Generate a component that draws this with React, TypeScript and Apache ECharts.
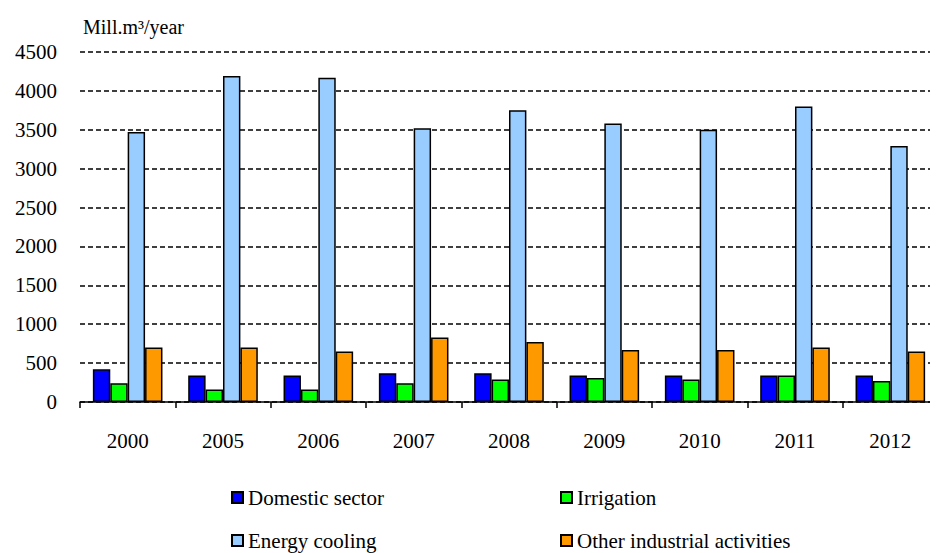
import React, { useEffect, useRef } from "react";
import * as echarts from "echarts";

const categories = ["2000", "2005", "2006", "2007", "2008", "2009", "2010", "2011", "2012"];
const domestic = [420, 340, 340, 370, 370, 340, 340, 340, 340];
const irrigation = [240, 160, 160, 240, 290, 310, 290, 340, 270];
const energyCooling = [3470, 4190, 4170, 3520, 3750, 3580, 3500, 3800, 3290];
const otherIndustrial = [700, 700, 650, 830, 770, 670, 670, 700, 650];
const seriesNames = ["Domestic sector", "Irrigation", "Energy cooling", "Other industrial activities"];
const yTitle = "Mill.m³/year";

const FONT = "Liberation Serif";
const colors = ["#0000FF", "#00FF00", "#99CCFF", "#FF9900"];

export default function App() {
  const ref = useRef<HTMLDivElement>(null);
  useEffect(() => {
    if (!ref.current) return;
    const chart = echarts.init(ref.current, null, { renderer: "svg" });
    const data = [domestic, irrigation, energyCooling, otherIndustrial];
    const legendPos = [
      { left: 231, top: 487 },
      { left: 560, top: 487 },
      { left: 231, top: 530 },
      { left: 560, top: 530 },
    ];
    const richF = { f: { fontFamily: FONT, fontSize: 21, color: "#000" } };
    chart.setOption({
      animation: false,
      graphic: [
        {
          type: "text",
          x: 83,
          y: 17,
          style: { text: yTitle, fontFamily: FONT, fontSize: 20, fill: "#000" },
        },
      ],
      legend: seriesNames.map((n, i) => ({
        data: [{ name: n, icon: "rect" }],
        left: legendPos[i].left,
        top: legendPos[i].top,
        itemWidth: 11,
        itemHeight: 11,
        itemGap: 5,
        padding: 0,
        formatter: (name: string) => `{f|${name}}`,
        textStyle: { fontFamily: FONT, fontSize: 21, color: "#000", rich: richF },
      })),
      grid: { left: 80, top: 52, width: 864, height: 350, containLabel: false },
      xAxis: {
        type: "category",
        data: categories,
        axisLine: { show: true, lineStyle: { color: "#000", width: 1.5 } },
        axisTick: { show: true, length: 6, lineStyle: { color: "#000", width: 1.5 } },
        axisLabel: { color: "#000", fontSize: 21, fontFamily: FONT, margin: 28 },
      },
      yAxis: {
        type: "value",
        min: 0,
        max: 4500,
        interval: 500,
        axisLine: { show: false },
        axisTick: { show: false },
        axisLabel: {
          color: "#000",
          fontSize: 21,
          fontFamily: FONT,
          margin: 23,
          formatter: (v: number) => `{f|${v}}`,
          rich: richF,
        },
        splitLine: { show: true, lineStyle: { color: "#000", width: 1.5, type: [5, 3] } },
      },
      series: seriesNames.map((n, i) => ({
        name: n,
        type: "bar",
        data: data[i],
        barGap: "0%",
        barCategoryGap: "27%",
        itemStyle: { color: colors[i], borderColor: "#000", borderWidth: 1.5 },
      })),
    });
    return () => chart.dispose();
  }, []);
  return <div ref={ref} style={{ width: 938, height: 553, margin: "-8px 0 0 -8px" }} />;
}
